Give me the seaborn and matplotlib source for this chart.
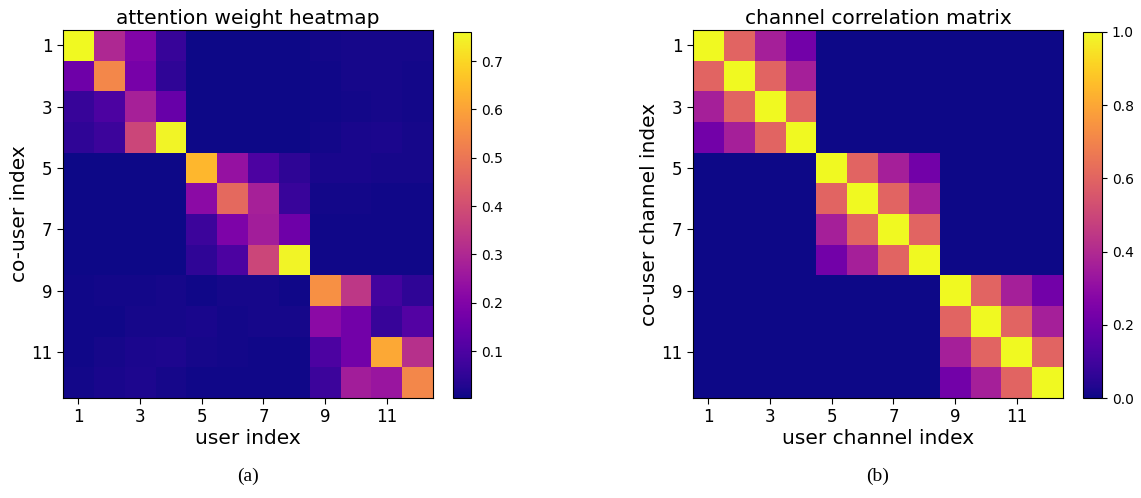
import numpy as np
import matplotlib
matplotlib.use("Agg")
import matplotlib.pyplot as plt
import seaborn as sns

tick_positions = [1, 3, 5, 7, 9, 11]

# attention weight heatmap (rows: co-user index, cols: user index)
attn_row1 = [0.760, 0.300, 0.200, 0.060, 0.004, 0.004, 0.004, 0.004, 0.010, 0.012, 0.014, 0.014]
attn_row2 = [0.160, 0.540, 0.180, 0.050, 0.004, 0.004, 0.004, 0.004, 0.008, 0.012, 0.012, 0.010]
attn_row3 = [0.060, 0.100, 0.280, 0.150, 0.004, 0.004, 0.004, 0.004, 0.008, 0.010, 0.014, 0.010]
attn_row4 = [0.050, 0.070, 0.380, 0.750, 0.004, 0.004, 0.004, 0.004, 0.010, 0.016, 0.018, 0.014]
attn_row5 = [0.003, 0.003, 0.003, 0.003, 0.640, 0.240, 0.100, 0.045, 0.016, 0.016, 0.012, 0.012]
attn_row6 = [0.003, 0.003, 0.003, 0.003, 0.220, 0.470, 0.280, 0.065, 0.010, 0.010, 0.006, 0.006]
attn_row7 = [0.003, 0.003, 0.003, 0.003, 0.070, 0.190, 0.270, 0.160, 0.008, 0.008, 0.006, 0.006]
attn_row8 = [0.003, 0.003, 0.003, 0.003, 0.050, 0.100, 0.380, 0.750, 0.006, 0.006, 0.006, 0.006]
attn_row9 = [0.006, 0.010, 0.010, 0.012, 0.008, 0.012, 0.012, 0.008, 0.560, 0.340, 0.080, 0.050]
attn_row10 = [0.006, 0.006, 0.014, 0.012, 0.016, 0.010, 0.012, 0.012, 0.220, 0.170, 0.060, 0.110]
attn_row11 = [0.008, 0.014, 0.020, 0.022, 0.014, 0.010, 0.006, 0.006, 0.100, 0.170, 0.610, 0.320]
attn_row12 = [0.010, 0.016, 0.022, 0.014, 0.006, 0.006, 0.006, 0.006, 0.070, 0.270, 0.250, 0.540]

# channel correlation matrix (rows: co-user channel index, cols: user channel index)
corr_row1 = [1.00, 0.60, 0.36, 0.22, 0, 0, 0, 0, 0, 0, 0, 0]
corr_row2 = [0.60, 1.00, 0.60, 0.36, 0, 0, 0, 0, 0, 0, 0, 0]
corr_row3 = [0.36, 0.60, 1.00, 0.60, 0, 0, 0, 0, 0, 0, 0, 0]
corr_row4 = [0.22, 0.36, 0.60, 1.00, 0, 0, 0, 0, 0, 0, 0, 0]
corr_row5 = [0, 0, 0, 0, 1.00, 0.60, 0.36, 0.22, 0, 0, 0, 0]
corr_row6 = [0, 0, 0, 0, 0.60, 1.00, 0.60, 0.36, 0, 0, 0, 0]
corr_row7 = [0, 0, 0, 0, 0.36, 0.60, 1.00, 0.60, 0, 0, 0, 0]
corr_row8 = [0, 0, 0, 0, 0.22, 0.36, 0.60, 1.00, 0, 0, 0, 0]
corr_row9 = [0, 0, 0, 0, 0, 0, 0, 0, 1.00, 0.60, 0.36, 0.22]
corr_row10 = [0, 0, 0, 0, 0, 0, 0, 0, 0.60, 1.00, 0.60, 0.36]
corr_row11 = [0, 0, 0, 0, 0, 0, 0, 0, 0.36, 0.60, 1.00, 0.60]
corr_row12 = [0, 0, 0, 0, 0, 0, 0, 0, 0.22, 0.36, 0.60, 1.00]

attn = np.array([attn_row1, attn_row2, attn_row3, attn_row4, attn_row5, attn_row6,
                 attn_row7, attn_row8, attn_row9, attn_row10, attn_row11, attn_row12])
corr = np.array([corr_row1, corr_row2, corr_row3, corr_row4, corr_row5, corr_row6,
                 corr_row7, corr_row8, corr_row9, corr_row10, corr_row11, corr_row12])

fig = plt.figure(figsize=(11.41, 4.98), dpi=100)
W, H = 1141, 498

def rect(x0, y0, x1, y1):
    return [x0 / W, 1 - y1 / H, (x1 - x0) / W, (y1 - y0) / H]

ax1 = fig.add_axes(rect(63, 30, 433, 398))
cax1 = fig.add_axes(rect(453, 32, 471, 398))
ax2 = fig.add_axes(rect(693, 30, 1063, 398))
cax2 = fig.add_axes(rect(1083, 32, 1102, 398))

panels = [
    (ax1, cax1, attn, "attention weight heatmap", "user index", "co-user index", "(a)",
     [0.1, 0.2, 0.3, 0.4, 0.5, 0.6, 0.7], "{:.1f}"),
    (ax2, cax2, corr, "channel correlation matrix", "user channel index",
     "co-user channel index", "(b)", [0.0, 0.2, 0.4, 0.6, 0.8, 1.0], "{:.1f}"),
]

for ax, cax, data, title, xl, yl, sub, cticks, fmt in panels:
    sns.heatmap(data, ax=ax, cbar_ax=cax, cmap="plasma", square=False,
                xticklabels=False, yticklabels=False)
    ax.set_xticks([p - 0.5 for p in tick_positions])
    ax.set_xticklabels([str(p) for p in tick_positions], fontsize=12, rotation=0)
    ax.set_yticks([p - 0.5 for p in tick_positions])
    ax.set_yticklabels([str(p) for p in tick_positions], fontsize=12, rotation=0)
    ax.tick_params(length=4, width=0.8)
    for s in ax.spines.values():
        s.set_visible(True)
        s.set_color("black")
        s.set_linewidth(0.8)
    ax.set_title(title, fontsize=14.5, pad=4)
    ax.set_xlabel(xl, fontsize=14.5, labelpad=2)
    ax.set_ylabel(yl, fontsize=14.5, labelpad=2)
    ax.text(0.5, -0.19, sub, transform=ax.transAxes, ha="center", va="top",
            fontsize=14, family="Liberation Serif")
    cb = ax.collections[0].colorbar
    cb.set_ticks(cticks)
    cb.set_ticklabels([fmt.format(t) for t in cticks])
    cb.ax.tick_params(labelsize=10, length=3.5, width=0.8)
    cb.outline.set_visible(True)
    cb.outline.set_edgecolor("black")
    cb.outline.set_linewidth(0.8)

fig.savefig("out.png", dpi=100)
